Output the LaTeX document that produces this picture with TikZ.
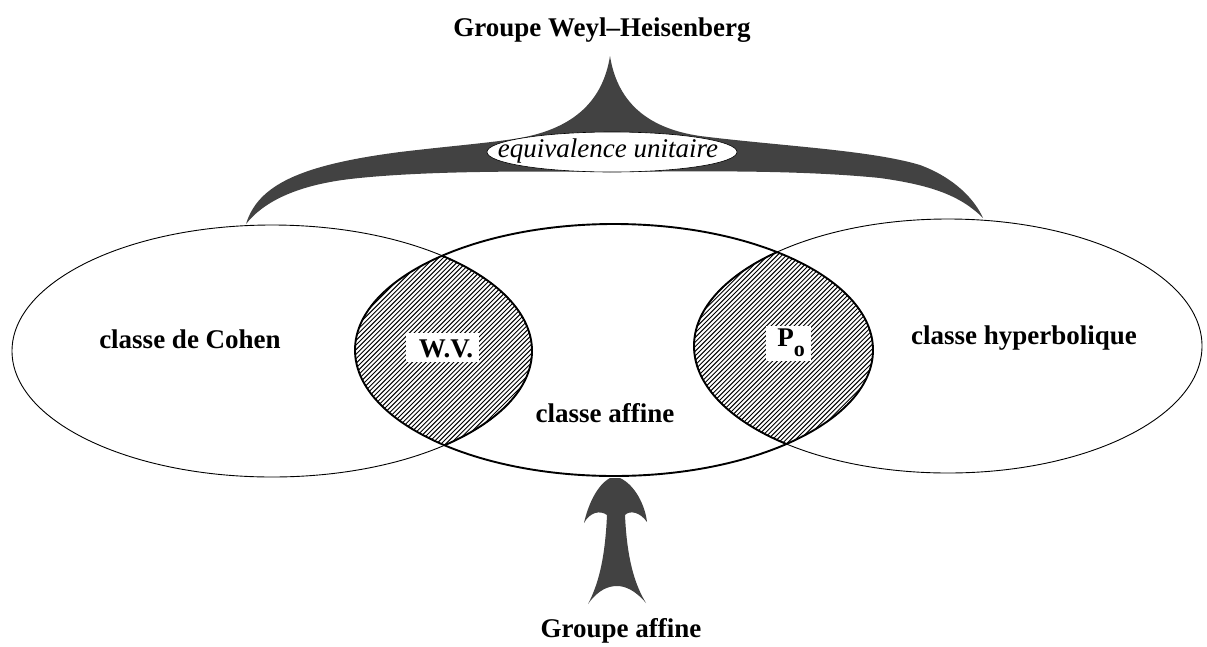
\documentclass[tikz,border=0pt]{standalone}
\usepackage{fontspec}
\setmainfont{Liberation Serif}
\usetikzlibrary{shapes.geometric}
\tikzset{
  lab/.style={font=\fontsize{27}{32}\selectfont\bfseries, inner sep=0pt},
  itlab/.style={font=\fontsize{27}{32}\selectfont\itshape, inner sep=0pt},
  thinell/.style={draw=black, line width=0.9pt},
  thickell/.style={draw=black, line width=1.9pt},
  dark/.style={fill=black!74},
  hatchline/.style={line width=0.95pt},
  knock/.style={fill=white, inner sep=0pt},
}
\begin{document}
\begin{tikzpicture}[x=1pt,y=-1pt]
\useasboundingbox (0,0) rectangle (1207,646);

% hatched intersections
\begin{scope}
  \clip (272,351) ellipse [x radius=260, y radius=126];
  \clip (614,350) ellipse [x radius=259, y radius=126];
  \foreach \i in {40,44.6,...,560} \draw[hatchline] (\i,500) -- ++(300,-300);
\end{scope}
\begin{scope}
  \clip (948,346) ellipse [x radius=254, y radius=127];
  \clip (614,350) ellipse [x radius=259, y radius=126];
  \foreach \i in {390,394.6,...,900} \draw[hatchline] (\i,500) -- ++(300,-300);
\end{scope}

% ellipses
\draw[thinell] (272,351) ellipse [x radius=260, y radius=126];
\draw[thinell] (948,346) ellipse [x radius=254, y radius=127];
\draw[thickell] (614,350) ellipse [x radius=259, y radius=126];
\begin{scope}
  \clip (614,350) ellipse [x radius=259, y radius=126];
  \draw[thickell] (272,351) ellipse [x radius=260, y radius=126];
  \draw[thickell] (948,346) ellipse [x radius=254, y radius=127];
\end{scope}

% labels in ellipses
\fill[white] (406,333) rectangle (479,362);
\fill[white] (766,326) rectangle (811,361);
\node[lab, anchor=base] (wv) at (446,357) {W.V.};
\node[lab, anchor=base] (po) at (791,346) {P\raisebox{-10pt}{\fontsize{22}{26}\selectfont o}};
\node[lab, anchor=base] (cohen) at (190,348) {classe de Cohen};
\node[lab, anchor=base] (affine) at (605,422) {classe affine};
\node[lab, anchor=base] (hyper) at (1024,344) {classe hyperbolique};

% brace (unitary equivalence)
\coordinate (bl) at (246,224);
\coordinate (br) at (983,218);
\coordinate (bp) at (610,56);
\fill[dark] (bl) .. controls (258,185) and (300,165) .. (400,152)
  .. controls (450,146) and (490,143) .. (520,138)
  .. controls (575,128) and (603,100) .. (bp)
  .. controls (617,100) and (645,128) .. (700,136)
  .. controls (780,146) and (870,150) .. (920,165)
  .. controls (955,178) and (975,200) .. (br)
  .. controls (960,195) and (930,185) .. (880,178)
  .. controls (800,170) and (700,171) .. (610,172)
  .. controls (520,171) and (420,171) .. (350,179)
  .. controls (300,185) and (265,200) .. (bl) -- cycle;
\node[ellipse, draw=black, line width=0.6pt, fill=white, minimum width=250pt, minimum height=40pt, inner sep=0pt] (eqell) at (612,152) {};
\node[itlab, anchor=base] (eq) at (608,157) {equivalence unitaire};
\node[lab, anchor=base] (wh) at (602,36) {Groupe Weyl--Heisenberg};

% affine group arrow
\coordinate (at) at (615,477);
\fill[dark] (610,478) -- (620,478)
  .. controls (635,485) and (645,505) .. (647,522)
  .. controls (640,512) and (630,510) .. (625,515)
  .. controls (627,560) and (635,585) .. (646,603)
  .. controls (635,590) and (625,586) .. (617,586)
  .. controls (608,586) and (598,590) .. (588,604)
  .. controls (598,585) and (605,560) .. (607,515)
  .. controls (600,510) and (590,512) .. (584,523)
  .. controls (588,505) and (597,485) .. (610,478) -- cycle;
\node[lab, anchor=base] (ga) at (621,637) {Groupe affine};
\end{tikzpicture}
\end{document}
